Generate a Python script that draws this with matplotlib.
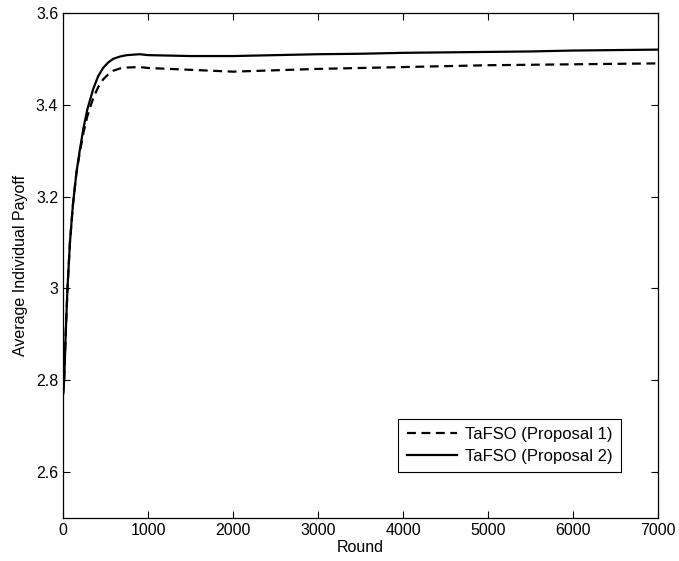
import matplotlib
matplotlib.use('Agg')
import matplotlib.pyplot as plt

plt.rcParams['font.family'] = ['Liberation Sans', 'DejaVu Sans']

rounds = [0, 12, 30, 51, 80, 114, 155, 195, 240, 285, 355, 412, 470, 530, 590, 670, 750,
          900, 1000, 1500, 2000, 2500, 3000, 3500, 4000, 4500, 5000, 5500, 6000, 6500, 7000]
proposal2 = [2.77, 2.80, 2.90, 3.00, 3.10, 3.18, 3.25, 3.30, 3.35, 3.39, 3.435, 3.462,
             3.480, 3.492, 3.500, 3.505, 3.508, 3.51, 3.508, 3.506, 3.506, 3.508, 3.510,
             3.511, 3.513, 3.514, 3.515, 3.516, 3.518, 3.519, 3.52]
proposal1 = [2.77, 2.80, 2.90, 3.00, 3.10, 3.18, 3.25, 3.295, 3.34, 3.375, 3.415, 3.438,
             3.455, 3.466, 3.474, 3.479, 3.481, 3.482, 3.480, 3.476, 3.472, 3.475, 3.478,
             3.480, 3.482, 3.484, 3.486, 3.487, 3.488, 3.489, 3.49]

fig = plt.figure(figsize=(6.79, 5.61), dpi=100)
ax = fig.add_axes([0.093, 0.077, 0.876, 0.900])

ax.plot(rounds, proposal1, 'k--', lw=1.6, dashes=(4, 2.5), label='TaFSO (Proposal 1)')
ax.plot(rounds, proposal2, 'k-', lw=1.6, label='TaFSO (Proposal 2)')

ax.set_xlim(0, 7000)
ax.set_ylim(2.5, 3.6)
ax.set_xticks(range(0, 7001, 1000))
ax.set_yticks([2.6, 2.8, 3.0, 3.2, 3.4, 3.6])
ax.set_yticklabels(['2.6', '2.8', '3', '3.2', '3.4', '3.6'])
ax.tick_params(direction='in', top=True, right=True, length=5, width=0.8, labelsize=11.5)
for s in ax.spines.values():
    s.set_linewidth(0.9)

ax.set_xlabel('Round', fontsize=11.5, labelpad=2)
ax.set_ylabel('Average Individual Payoff', fontsize=11.5, labelpad=6)

leg = ax.legend(loc='lower right', bbox_to_anchor=(0.938, 0.091), borderaxespad=0,
                fontsize=12, fancybox=False, framealpha=1, edgecolor='k',
                handlelength=3.0, borderpad=0.5, labelspacing=0.4, handletextpad=0.5)
leg.get_frame().set_linewidth(0.8)

fig.savefig('out.png', dpi=100)
